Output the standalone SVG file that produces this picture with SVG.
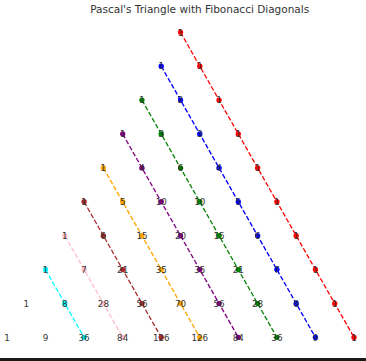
<svg xmlns="http://www.w3.org/2000/svg" width="366" height="361" viewBox="0 0 366 361">
<style>
.title{font-family:"DejaVu Sans",Verdana,sans-serif;font-size:10.5px;fill:#333;text-anchor:middle}
.n text{font-family:"DejaVu Sans",Verdana,sans-serif;font-size:8.75px;fill:#333;text-anchor:middle}
.d{fill:none;stroke-width:1.3;stroke-dasharray:4.8 2.1}
</style>
<defs>
<marker id="m0" markerUnits="userSpaceOnUse" viewBox="0 0 6 6" refX="3" refY="3" markerWidth="6" markerHeight="6"><circle cx="3" cy="3" r="2.7" fill="#ff0000"/></marker>
<marker id="m1" markerUnits="userSpaceOnUse" viewBox="0 0 6 6" refX="3" refY="3" markerWidth="6" markerHeight="6"><circle cx="3" cy="3" r="2.7" fill="#0000ff"/></marker>
<marker id="m2" markerUnits="userSpaceOnUse" viewBox="0 0 6 6" refX="3" refY="3" markerWidth="6" markerHeight="6"><circle cx="3" cy="3" r="2.7" fill="#008000"/></marker>
<marker id="m3" markerUnits="userSpaceOnUse" viewBox="0 0 6 6" refX="3" refY="3" markerWidth="6" markerHeight="6"><circle cx="3" cy="3" r="2.7" fill="#800080"/></marker>
<marker id="m4" markerUnits="userSpaceOnUse" viewBox="0 0 6 6" refX="3" refY="3" markerWidth="6" markerHeight="6"><circle cx="3" cy="3" r="2.7" fill="#ffa500"/></marker>
<marker id="m5" markerUnits="userSpaceOnUse" viewBox="0 0 6 6" refX="3" refY="3" markerWidth="6" markerHeight="6"><circle cx="3" cy="3" r="2.7" fill="#a52a2a"/></marker>
<marker id="m6" markerUnits="userSpaceOnUse" viewBox="0 0 6 6" refX="3" refY="3" markerWidth="6" markerHeight="6"><circle cx="3" cy="3" r="2.7" fill="#ffc0cb"/></marker>
<marker id="m7" markerUnits="userSpaceOnUse" viewBox="0 0 6 6" refX="3" refY="3" markerWidth="6" markerHeight="6"><circle cx="3" cy="3" r="2.7" fill="#00ffff"/></marker>
</defs>
<rect width="366" height="361" fill="#fff"/>
<text class="title" x="199.7" y="12.8">Pascal's Triangle with Fibonacci Diagonals</text>
<g id="connectors">
<polyline class="d" stroke="#ff0000" marker-start="url(#m0)" marker-mid="url(#m0)" marker-end="url(#m0)" points="180.5,32.3 199.78,66.2 219.06,100.1 238.34,134 257.62,167.9 276.9,201.8 296.18,235.7 315.46,269.6 334.74,303.5 354.02,337.4"/>
<polyline class="d" stroke="#0000ff" marker-start="url(#m1)" marker-mid="url(#m1)" marker-end="url(#m1)" points="161.22,66.2 180.5,100.1 199.78,134 219.06,167.9 238.34,201.8 257.62,235.7 276.9,269.6 296.18,303.5 315.46,337.4"/>
<polyline class="d" stroke="#008000" marker-start="url(#m2)" marker-mid="url(#m2)" marker-end="url(#m2)" points="141.94,100.1 161.22,134 180.5,167.9 199.78,201.8 219.06,235.7 238.34,269.6 257.62,303.5 276.9,337.4"/>
<polyline class="d" stroke="#800080" marker-start="url(#m3)" marker-mid="url(#m3)" marker-end="url(#m3)" points="122.66,134 141.94,167.9 161.22,201.8 180.5,235.7 199.78,269.6 219.06,303.5 238.34,337.4"/>
<polyline class="d" stroke="#ffa500" marker-start="url(#m4)" marker-mid="url(#m4)" marker-end="url(#m4)" points="103.38,167.9 122.66,201.8 141.94,235.7 161.22,269.6 180.5,303.5 199.78,337.4"/>
<polyline class="d" stroke="#a52a2a" marker-start="url(#m5)" marker-mid="url(#m5)" marker-end="url(#m5)" points="84.1,201.8 103.38,235.7 122.66,269.6 141.94,303.5 161.22,337.4"/>
<polyline class="d" stroke="#ffc0cb" marker-start="url(#m6)" marker-mid="url(#m6)" marker-end="url(#m6)" points="64.82,235.7 84.1,269.6 103.38,303.5 122.66,337.4"/>
<polyline class="d" stroke="#00ffff" marker-start="url(#m7)" marker-mid="url(#m7)" marker-end="url(#m7)" points="45.54,269.6 64.82,303.5 84.1,337.4"/>
</g>
<g class="n">
<g id="r0k0" transform="translate(180.5,32.3)"><text y="3.2">1</text></g>
<g id="r1k0" transform="translate(161.22,66.2)"><text y="3.2">1</text></g>
<g id="r1k1" transform="translate(199.78,66.2)"><text y="3.2">1</text></g>
<g id="r2k0" transform="translate(141.94,100.1)"><text y="3.2">1</text></g>
<g id="r2k1" transform="translate(180.5,100.1)"><text y="3.2">2</text></g>
<g id="r2k2" transform="translate(219.06,100.1)"><text y="3.2">1</text></g>
<g id="r3k0" transform="translate(122.66,134)"><text y="3.2">1</text></g>
<g id="r3k1" transform="translate(161.22,134)"><text y="3.2">3</text></g>
<g id="r3k2" transform="translate(199.78,134)"><text y="3.2">3</text></g>
<g id="r3k3" transform="translate(238.34,134)"><text y="3.2">1</text></g>
<g id="r4k0" transform="translate(103.38,167.9)"><text y="3.2">1</text></g>
<g id="r4k1" transform="translate(141.94,167.9)"><text y="3.2">4</text></g>
<g id="r4k2" transform="translate(180.5,167.9)"><text y="3.2">6</text></g>
<g id="r4k3" transform="translate(219.06,167.9)"><text y="3.2">4</text></g>
<g id="r4k4" transform="translate(257.62,167.9)"><text y="3.2">1</text></g>
<g id="r5k0" transform="translate(84.1,201.8)"><text y="3.2">1</text></g>
<g id="r5k1" transform="translate(122.66,201.8)"><text y="3.2">5</text></g>
<g id="r5k2" transform="translate(161.22,201.8)"><text y="3.2">10</text></g>
<g id="r5k3" transform="translate(199.78,201.8)"><text y="3.2">10</text></g>
<g id="r5k4" transform="translate(238.34,201.8)"><text y="3.2">5</text></g>
<g id="r5k5" transform="translate(276.9,201.8)"><text y="3.2">1</text></g>
<g id="r6k0" transform="translate(64.82,235.7)"><text y="3.2">1</text></g>
<g id="r6k1" transform="translate(103.38,235.7)"><text y="3.2">6</text></g>
<g id="r6k2" transform="translate(141.94,235.7)"><text y="3.2">15</text></g>
<g id="r6k3" transform="translate(180.5,235.7)"><text y="3.2">20</text></g>
<g id="r6k4" transform="translate(219.06,235.7)"><text y="3.2">15</text></g>
<g id="r6k5" transform="translate(257.62,235.7)"><text y="3.2">6</text></g>
<g id="r6k6" transform="translate(296.18,235.7)"><text y="3.2">1</text></g>
<g id="r7k0" transform="translate(45.54,269.6)"><text y="3.2">1</text></g>
<g id="r7k1" transform="translate(84.1,269.6)"><text y="3.2">7</text></g>
<g id="r7k2" transform="translate(122.66,269.6)"><text y="3.2">21</text></g>
<g id="r7k3" transform="translate(161.22,269.6)"><text y="3.2">35</text></g>
<g id="r7k4" transform="translate(199.78,269.6)"><text y="3.2">35</text></g>
<g id="r7k5" transform="translate(238.34,269.6)"><text y="3.2">21</text></g>
<g id="r7k6" transform="translate(276.9,269.6)"><text y="3.2">7</text></g>
<g id="r7k7" transform="translate(315.46,269.6)"><text y="3.2">1</text></g>
<g id="r8k0" transform="translate(26.26,303.5)"><text y="3.2">1</text></g>
<g id="r8k1" transform="translate(64.82,303.5)"><text y="3.2">8</text></g>
<g id="r8k2" transform="translate(103.38,303.5)"><text y="3.2">28</text></g>
<g id="r8k3" transform="translate(141.94,303.5)"><text y="3.2">56</text></g>
<g id="r8k4" transform="translate(180.5,303.5)"><text y="3.2">70</text></g>
<g id="r8k5" transform="translate(219.06,303.5)"><text y="3.2">56</text></g>
<g id="r8k6" transform="translate(257.62,303.5)"><text y="3.2">28</text></g>
<g id="r8k7" transform="translate(296.18,303.5)"><text y="3.2">8</text></g>
<g id="r8k8" transform="translate(334.74,303.5)"><text y="3.2">1</text></g>
<g id="r9k0" transform="translate(6.98,337.4)"><text y="3.2">1</text></g>
<g id="r9k1" transform="translate(45.54,337.4)"><text y="3.2">9</text></g>
<g id="r9k2" transform="translate(84.1,337.4)"><text y="3.2">36</text></g>
<g id="r9k3" transform="translate(122.66,337.4)"><text y="3.2">84</text></g>
<g id="r9k4" transform="translate(161.22,337.4)"><text y="3.2">126</text></g>
<g id="r9k5" transform="translate(199.78,337.4)"><text y="3.2">126</text></g>
<g id="r9k6" transform="translate(238.34,337.4)"><text y="3.2">84</text></g>
<g id="r9k7" transform="translate(276.9,337.4)"><text y="3.2">36</text></g>
<g id="r9k8" transform="translate(315.46,337.4)"><text y="3.2">9</text></g>
<g id="r9k9" transform="translate(354.02,337.4)"><text y="3.2">1</text></g>
</g>
<rect x="0" y="358" width="366" height="3" fill="#1a1a1a"/>
</svg>
